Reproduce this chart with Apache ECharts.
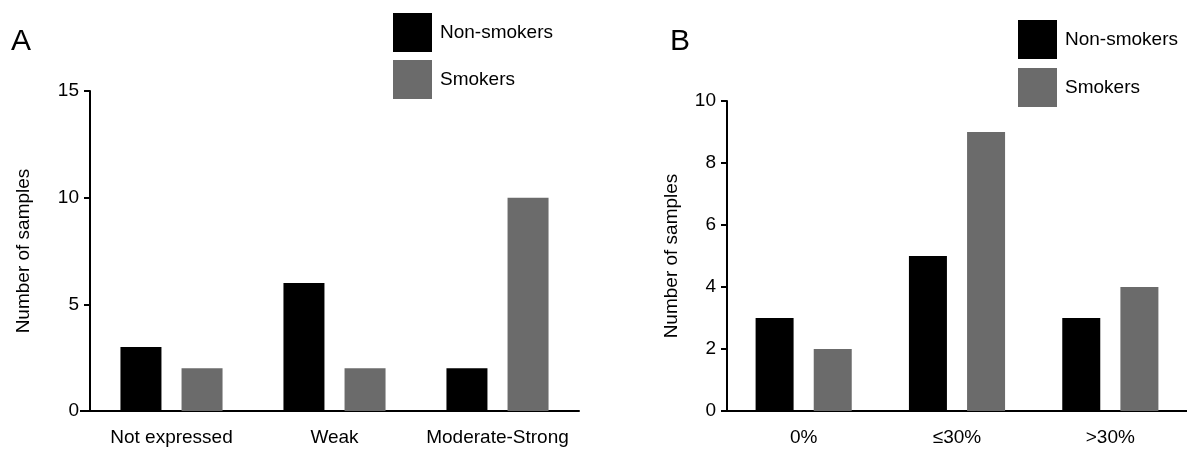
<!DOCTYPE html>
<html>
<head>
<meta charset="utf-8">
<script src="https://cdn.jsdelivr.net/npm/echarts@6/dist/echarts.min.js"></script>
<style>
html,body{margin:0;padding:0;background:#fff;}
#chart{width:1187px;height:450px;}
</style>
</head>
<body>
<div id="chart"></div>
<script>
// ---- Data ----
var categoriesA = ['Not expressed', 'Weak', 'Moderate-Strong'];
var nonSmokersA = [3, 6, 2];
var smokersA = [2, 2, 10];

var categoriesB = ['0%', '\u226430%', '>30%'];
var nonSmokersB = [3, 5, 3];
var smokersB = [2, 9, 4];

var seriesNames = ['Non-smokers', 'Smokers'];
var panelLabels = ['A', 'B'];
var yAxisTitle = 'Number of samples';

// ---- Styling ----
var FONT = "'Liberation Sans', Arial, Helvetica, sans-serif";
var BLACK = '#000000';
var GREY = '#6b6b6b';
var gA = {left: 90, top: 91, width: 489, height: 320};
var gB = {left: 727, top: 101, width: 477, height: 310};

function xAxisCfg(cats, gi) {
  return {
    type: 'category', gridIndex: gi, data: cats,
    axisLine: {lineStyle: {color: '#000', width: 2}},
    axisTick: {alignWithLabel: true, length: 8, lineStyle: {color: '#000', width: 2}},
    axisLabel: {color: '#000', fontSize: 19, fontFamily: FONT, margin: 17, interval: 0}
  };
}
function yAxisCfg(max, interval, gi, gap) {
  return {
    type: 'value', gridIndex: gi, min: 0, max: max, interval: interval,
    name: yAxisTitle, nameLocation: 'middle', nameRotate: 90, nameGap: gap,
    nameTextStyle: {color: '#000', fontSize: 19, fontFamily: FONT},
    axisLine: {show: true, lineStyle: {color: '#000', width: 2}},
    axisTick: {show: true, length: 6, lineStyle: {color: '#000', width: 2}},
    axisLabel: {color: '#000', fontSize: 19, fontFamily: FONT, margin: 11},
    splitLine: {show: false}
  };
}
function bar(name, data, gi, color, width, gap) {
  return {
    type: 'bar', name: name, data: data, xAxisIndex: gi, yAxisIndex: gi,
    barWidth: width, barGap: gap, itemStyle: {color: color},
    emphasis: {disabled: true}, animation: false
  };
}
function legendCfg(left, top, gap) {
  return {
    data: seriesNames, orient: 'vertical', left: left, top: top, padding: 0,
    itemWidth: 39, itemHeight: 39, itemGap: gap, icon: 'rect',
    textStyle: {color: '#000', fontSize: 19, fontFamily: FONT, padding: [0, 0, 0, 3]},
    selectedMode: false
  };
}

var chart = echarts.init(document.getElementById('chart'), null, {renderer: 'canvas'});
chart.setOption({
  animation: false,
  backgroundColor: '#fff',
  title: [
    {text: panelLabels[0], left: 6, top: 22, textStyle: {fontSize: 30, fontWeight: 'normal', color: '#000', fontFamily: FONT}},
    {text: panelLabels[1], left: 665, top: 22, textStyle: {fontSize: 30, fontWeight: 'normal', color: '#000', fontFamily: FONT}}
  ],
  legend: [legendCfg(393, 13, 8), legendCfg(1018, 20, 9)],
  grid: [
    {left: gA.left, top: gA.top, width: gA.width, height: gA.height},
    {left: gB.left, top: gB.top, width: gB.width, height: gB.height}
  ],
  xAxis: [xAxisCfg(categoriesA, 0), xAxisCfg(categoriesB, 1)],
  yAxis: [yAxisCfg(15, 5, 0, 57), yAxisCfg(10, 2, 1, 46)],
  series: [
    bar(seriesNames[0], nonSmokersA, 0, BLACK, 41, '49%'),
    bar(seriesNames[1], smokersA, 0, GREY, 41, '49%'),
    bar(seriesNames[0], nonSmokersB, 1, BLACK, 38, '53%'),
    bar(seriesNames[1], smokersB, 1, GREY, 38, '53%')
  ],
  graphic: [
    {type: 'line', shape: {x1: gA.left - 10, y1: gA.top + gA.height, x2: gA.left, y2: gA.top + gA.height}, style: {stroke: '#000', lineWidth: 2}},
    {type: 'line', shape: {x1: gB.left - 5, y1: gB.top + gB.height, x2: gB.left, y2: gB.top + gB.height}, style: {stroke: '#000', lineWidth: 2}}
  ]
});
</script>
</body>
</html>
